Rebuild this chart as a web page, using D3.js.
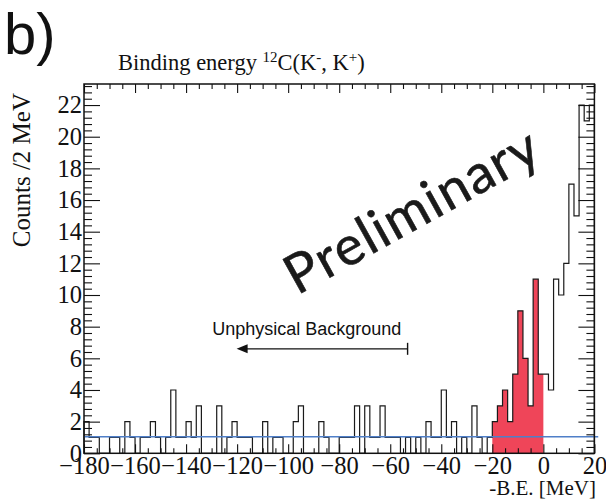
<!DOCTYPE html>
<html>
<head>
<meta charset="utf-8">
<script src="https://cdn.jsdelivr.net/npm/d3@7"></script>
<style>
  body { margin: 0; background: #fff; }
  svg { display: block; }
</style>
</head>
<body>
<svg id="chart" width="606" height="500"></svg>
<script>
// Binding-energy spectrum, 2 MeV bins from -180 to 20 MeV
const binStart = -180;
const binWidth = 2;
const counts = [
  2, 1, 1, 0, 0, 1, 1, 0, 2, 1,
  0, 1, 1, 2, 1, 0, 1, 4, 1, 1,
  2, 1, 3, 0, 0, 0, 3, 0, 1, 2,
  1, 1, 1, 0, 0, 2, 0, 1, 1, 0,
  0, 2, 3, 0, 0, 0, 2, 1, 0, 0,
  1, 1, 1, 3, 0, 3, 1, 1, 3, 1,
  1, 1, 0, 1, 0, 1, 0, 2, 1, 1,
  4, 1, 2, 0, 1, 0, 3, 1, 0, 1,
  2, 3, 4, 2, 5, 9, 6, 3, 11, 5,
  5, 4, 11, 10, 12, 17, 15, 22, 21, 22
];
// bins shaded as the signal region
const signalRange = [-20, 0];
// flat background level
const bgLevel = 1.05;

const xDomain = [-180, 20];
const yDomain = [0, 23.33];
const xTicks = [-180, -160, -140, -120, -100, -80, -60, -40, -20, 0, 20];
const yTicks = [0, 2, 4, 6, 8, 10, 12, 14, 16, 18, 20, 22];

// annotation: unphysical region arrow
const arrowFrom = -53.2, arrowTo = -120.2, arrowLevel = 6.6;
const noteText = "Unphysical Background";
const noteX = -92.7, noteLevel = 7.5;

const svg = d3.select("#chart");
const frame = { left: 84, right: 594.4, top: 84, bottom: 453.3 };

const x = d3.scaleLinear().domain(xDomain).range([frame.left, frame.right]);
const y = d3.scaleLinear().domain(yDomain).range([frame.bottom, frame.top]);

const serif = "'Liberation Serif', 'Times New Roman', Times, serif";
const sans = "'Liberation Sans', Arial, Helvetica, sans-serif";

const bins = counts.map((c, i) => ({
  x0: binStart + i * binWidth,
  x1: binStart + (i + 1) * binWidth,
  v: c
}));

// step outline: each bin contributes its two top corners
function stepPoints(list) {
  const pts = [];
  list.forEach(b => { pts.push([b.x0, b.v]); pts.push([b.x1, b.v]); });
  return pts;
}

// filled signal region
const sig = bins.filter(b => b.x0 >= signalRange[0] && b.x1 <= signalRange[1]);
const area = d3.area()
  .x(d => x(d[0]))
  .y0(y(0))
  .y1(d => y(d[1]));
svg.append("path")
  .attr("d", area(stepPoints(sig)))
  .attr("fill", "#ef4559")
  .attr("stroke", "none");

// histogram outline
const allPts = [[binStart, 0], ...stepPoints(bins), [bins[bins.length - 1].x1, 0]];
const line = d3.line().x(d => x(d[0])).y(d => y(d[1]));
svg.append("path")
  .attr("d", line(allPts))
  .attr("fill", "none")
  .attr("stroke", "#1a1a1a")
  .attr("stroke-width", 1.2)
  .attr("stroke-linejoin", "miter");

// background level
svg.append("line")
  .attr("x1", x(xDomain[0])).attr("x2", x(21.5))
  .attr("y1", y(bgLevel)).attr("y2", y(bgLevel))
  .attr("stroke", "#4f7fc8")
  .attr("stroke-width", 1.4);

// axes
const xMinor = d3.range(xDomain[0], xDomain[1] + 0.001, 5).filter(v => v % 20 !== 0);
const yMinor = d3.range(0, yDomain[1], 0.4).filter(v => Math.abs(v / 2 - Math.round(v / 2)) > 1e-6);

function styleAxis(g) {
  g.select(".domain").remove();
  g.attr("font-family", null).attr("font-size", null);
  g.selectAll(".tick line").attr("stroke", "#111").attr("stroke-width", 1.1);
  g.selectAll("text")
    .style("font-family", serif)
    .style("font-size", "24.5px")
    .attr("fill", "#111");
}

// bottom
svg.append("g").attr("transform", `translate(0,${frame.bottom})`)
  .call(d3.axisBottom(x).tickValues(xMinor).tickSize(-5).tickFormat(""))
  .call(styleAxis);
svg.append("g").attr("transform", `translate(0,${frame.bottom})`)
  .call(d3.axisBottom(x).tickValues(xTicks).tickSize(-9).tickPadding(3).tickFormat(d3.format("d")))
  .call(styleAxis);
// top
svg.append("g").attr("transform", `translate(0,${frame.top})`)
  .call(d3.axisTop(x).tickValues(xMinor).tickSize(-5).tickFormat(""))
  .call(styleAxis);
svg.append("g").attr("transform", `translate(0,${frame.top})`)
  .call(d3.axisTop(x).tickValues(xTicks).tickSize(-9).tickFormat(""))
  .call(styleAxis);
// left
svg.append("g").attr("transform", `translate(${frame.left},0)`)
  .call(d3.axisLeft(y).tickValues(yMinor).tickSize(-8).tickFormat(""))
  .call(styleAxis);
svg.append("g").attr("transform", `translate(${frame.left},0)`)
  .call(d3.axisLeft(y).tickValues(yTicks).tickSize(-16).tickPadding(2).tickFormat(d3.format("d")))
  .call(styleAxis);
// right
svg.append("g").attr("transform", `translate(${frame.right},0)`)
  .call(d3.axisRight(y).tickValues(yMinor).tickSize(-8).tickFormat(""))
  .call(styleAxis);
svg.append("g").attr("transform", `translate(${frame.right},0)`)
  .call(d3.axisRight(y).tickValues(yTicks).tickSize(-16).tickFormat(""))
  .call(styleAxis);

// frame
svg.append("rect")
  .attr("x", frame.left).attr("y", frame.top)
  .attr("width", frame.right - frame.left).attr("height", frame.bottom - frame.top)
  .attr("fill", "none").attr("stroke", "#111").attr("stroke-width", 1.5);

// axis titles
svg.append("text")
  .attr("transform", `translate(30,${frame.top + 9}) rotate(-90)`)
  .attr("text-anchor", "end")
  .style("font-family", serif).style("font-size", "25px").attr("fill", "#111")
  .text("Counts /2 MeV");

svg.append("text")
  .attr("x", 596).attr("y", 495)
  .attr("text-anchor", "end")
  .style("font-family", serif).style("font-size", "21px").attr("fill", "#111")
  .text("-B.E. [MeV]");

// plot title with superscripts
const title = svg.append("text")
  .attr("x", 118).attr("y", 70)
  .style("font-family", serif).style("font-size", "22.5px").attr("fill", "#111");
title.append("tspan").text("Binding energy ");
title.append("tspan").style("font-size", "15px").attr("dy", -8).text("12");
title.append("tspan").attr("dy", 8).text("C(K");
title.append("tspan").style("font-size", "15px").attr("dy", -8).text("-");
title.append("tspan").attr("dy", 8).text(", K");
title.append("tspan").style("font-size", "15px").attr("dy", -8).text("+");
title.append("tspan").attr("dy", 8).text(")");

// panel label
svg.append("text")
  .attr("x", 4).attr("y", 54)
  .style("font-family", sans).style("font-size", "58px").attr("fill", "#111")
  .text("b)");

// watermark
svg.append("text")
  .attr("transform", "translate(421,227) rotate(-29)")
  .attr("text-anchor", "middle")
  .style("font-family", "'Comic Sans MS', 'Lato', 'Noto Sans', sans-serif")
  .style("font-size", "54px")
  .attr("fill", "#1a1a1a")
  .attr("stroke", "#1a1a1a").attr("stroke-width", 0.6)
  .attr("letter-spacing", 1.5)
  .text("Preliminary");

// unphysical-region note and arrow
svg.append("text")
  .attr("x", x(noteX)).attr("y", y(noteLevel))
  .attr("text-anchor", "middle")
  .style("font-family", sans).style("font-size", "18px").attr("fill", "#111")
  .text(noteText);

const ay = y(arrowLevel);
svg.append("line")
  .attr("x1", x(arrowFrom)).attr("x2", x(arrowTo) + 8)
  .attr("y1", ay).attr("y2", ay)
  .attr("stroke", "#111").attr("stroke-width", 1.4);
svg.append("line")
  .attr("x1", x(arrowFrom)).attr("x2", x(arrowFrom))
  .attr("y1", ay - 6).attr("y2", ay + 6)
  .attr("stroke", "#111").attr("stroke-width", 1.4);
svg.append("path")
  .attr("d", d3.line()([[x(arrowTo), ay], [x(arrowTo) + 11, ay - 4.5], [x(arrowTo) + 11, ay + 4.5]]) + "Z")
  .attr("fill", "#111");
</script>
</body>
</html>
